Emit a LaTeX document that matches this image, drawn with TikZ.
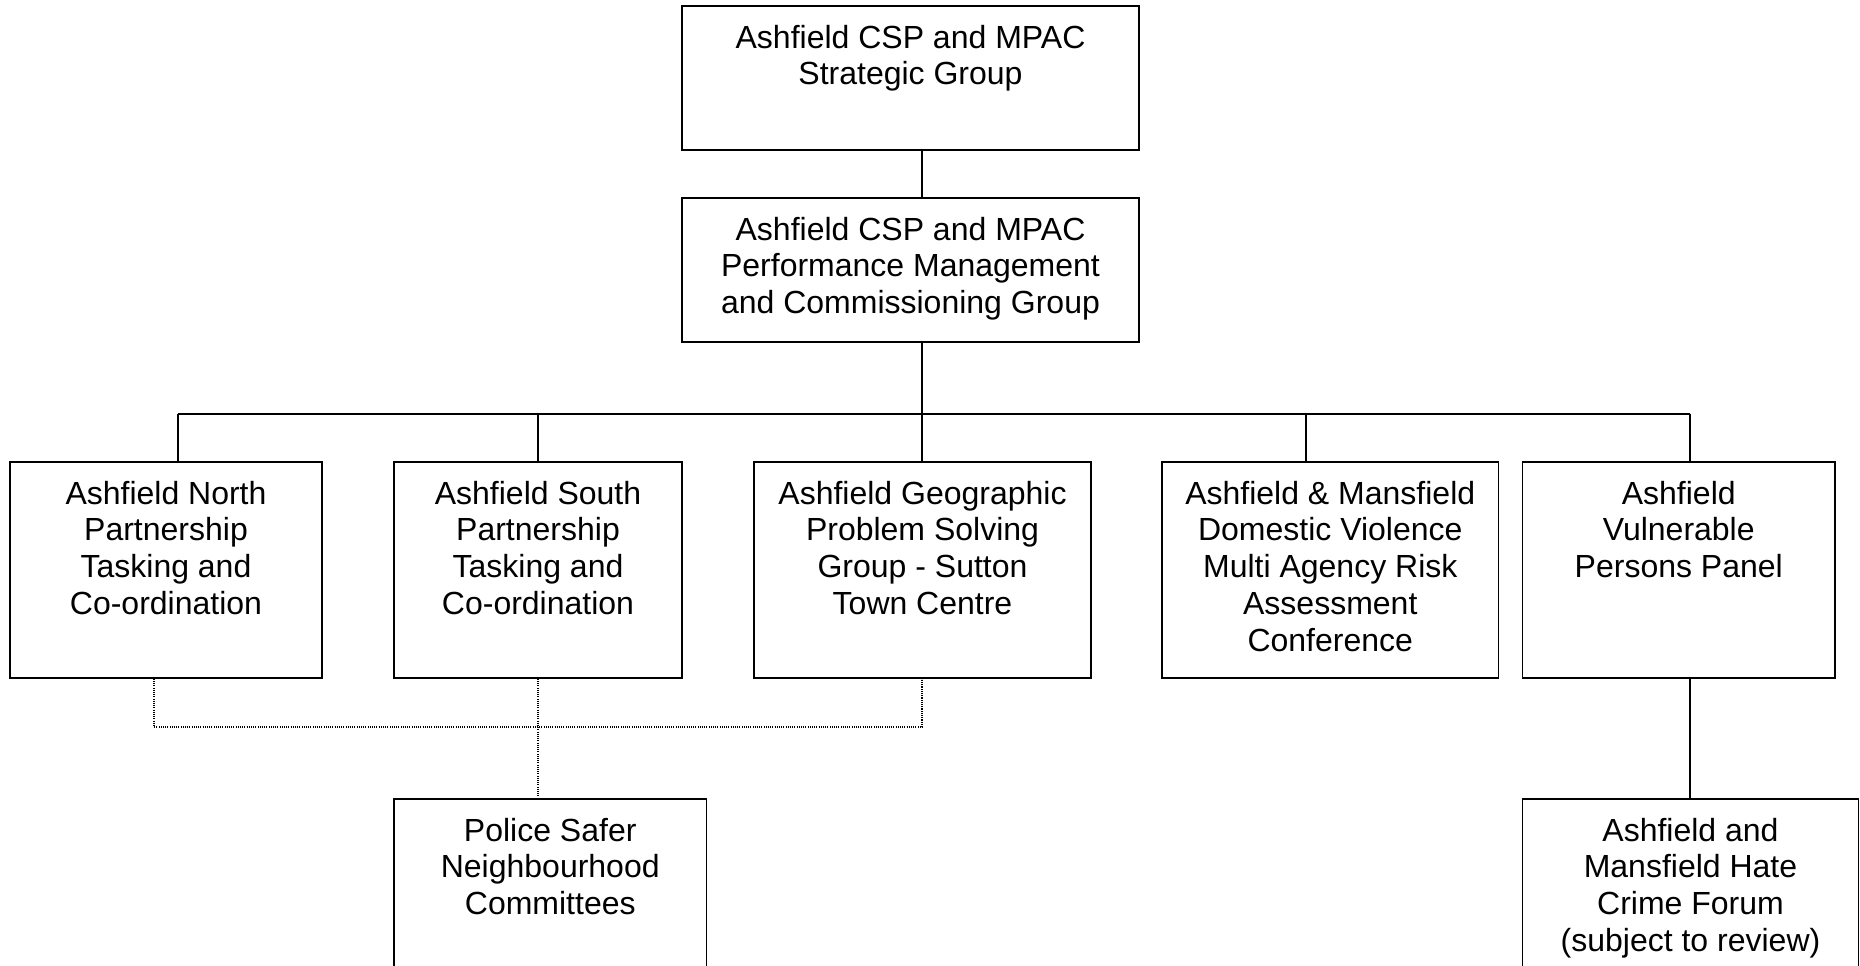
\documentclass[tikz,border=0pt]{standalone}
\usepackage{fontspec}
\setmainfont{Liberation Sans}
\begin{document}
\begin{tikzpicture}[x=1pt,y=-1pt,
  box/.style={draw, line width=1.4pt, inner sep=0pt},
  lbl/.style={anchor=north, inner sep=0pt, align=center, font=\fontsize{32}{36.8}\selectfont},
  link/.style={line width=1.4pt},
  dotlink/.style={line width=1.1pt, dash pattern=on 1.1pt off 1.1pt}]
\useasboundingbox (0,0) rectangle (1860,966);
\clip (0,0) rectangle (1860,966);

% boxes
\node[box, minimum width=457pt, minimum height=144pt] (top) at (910.5,78) {};
\node[box, minimum width=457pt, minimum height=144pt] (perf) at (910.5,270) {};
\node[box, minimum width=312pt, minimum height=216pt] (north) at (166,570) {};
\node[box, minimum width=288pt, minimum height=216pt] (south) at (538,570) {};
\node[box, minimum width=337pt, minimum height=216pt] (geo) at (922.5,570) {};
\node[box, minimum width=336.5pt, minimum height=216pt] (dv) at (1330.25,570) {};
\node[box, minimum width=312.5pt, minimum height=216pt] (vp) at (1678.75,570) {};
\node[box, minimum width=312.5pt, minimum height=168pt] (police) at (550.25,883) {};
\node[box, minimum width=336pt, minimum height=168pt] (hate) at (1690.5,883) {};

% texts
\node[lbl] (topT) at ([yshift=-19.4pt]top.north) {Ashfield CSP and MPAC\\Strategic Group};
\node[lbl] (perfT) at ([yshift=-19.4pt]perf.north) {Ashfield CSP and MPAC\\Performance Management\\and Commissioning Group};
\node[lbl] (northT) at ([yshift=-19.4pt]north.north) {Ashfield North\\Partnership\\Tasking and\\Co-ordination};
\node[lbl] (southT) at ([yshift=-19.4pt]south.north) {Ashfield South\\Partnership\\Tasking and\\Co-ordination};
\node[lbl] (geoT) at ([yshift=-19.4pt]geo.north) {Ashfield Geographic\\Problem Solving\\Group - Sutton\\Town Centre};
\node[lbl] (dvT) at ([yshift=-19.4pt]dv.north) {Ashfield \& Mansfield\\Domestic Violence\\Multi Agency Risk\\Assessment\\Conference};
\node[lbl] (vpT) at ([yshift=-19.4pt]vp.north) {Ashfield\\Vulnerable\\Persons Panel};
\node[lbl] (policeT) at ([yshift=-19.4pt]police.north) {Police Safer\\Neighbourhood\\Committees};
\node[lbl] (hateT) at ([yshift=-19.4pt]hate.north) {Ashfield and\\Mansfield Hate\\Crime Forum\\(subject to review)};

% bus coordinates
\coordinate (busL) at (178,414);
\coordinate (busM) at (922,414);
\coordinate (busDV) at (1306,414);
\coordinate (busR) at (1690,414);
\coordinate (dotL) at (154,727);
\coordinate (dotR) at (922,727);

% solid connectors
\draw[link] (top.south -| busM) -- (perf.north -| busM);
\draw[link] (perf.south -| busM) -- (busM);
\draw[link] (busL) -- (busR);
\draw[link] (north.north -| busL) -- (busL);
\draw[link] (south.north) -- (south.north |- busM);
\draw[link] (geo.north -| busM) -- (busM);
\draw[link] (dv.north -| busDV) -- (busDV);
\draw[link] (vp.north -| busR) -- (busR);
\draw[link] (vp.south -| busR) -- (hate.north -| busR);

% dotted connectors
\draw[dotlink] (north.south -| dotL) -- (dotL) -- (dotR) -- (geo.south -| dotR);
\draw[dotlink] (south.south) -- (police.north -| south.south);
\end{tikzpicture}
\end{document}
